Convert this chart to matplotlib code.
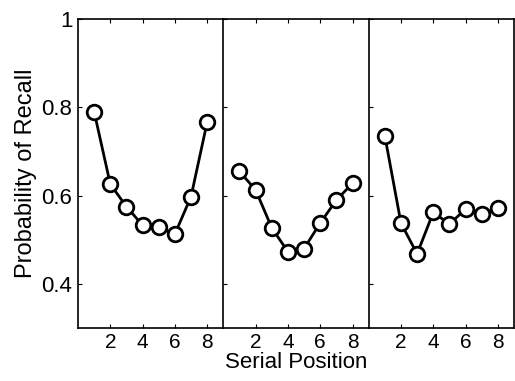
import numpy as np
import matplotlib.pyplot as plt

plt.rcParams['font.family'] = ['Liberation Sans', 'DejaVu Sans']

# serial positions and recall probabilities for each of the three panels
positions = [1, 2, 3, 4, 5, 6, 7, 8]
recall_a = [0.790, 0.626, 0.575, 0.533, 0.528, 0.513, 0.598, 0.767]
recall_b = [0.655, 0.613, 0.527, 0.473, 0.480, 0.538, 0.590, 0.628]
recall_c = [0.736, 0.538, 0.468, 0.562, 0.536, 0.569, 0.559, 0.572]
panels = [recall_a, recall_b, recall_c]

xticks = [2, 4, 6, 8]
yticks = [0.4, 0.6, 0.8, 1.0]
ytick_labels = ['0.4', '0.6', '0.8', '1']

fig = plt.figure(figsize=(5.15, 3.81), dpi=100)
left, right = 0.1515, 0.998
bottom, top = 0.139, 0.9496
w = (right - left) / 3

axes = []
for i, vals in enumerate(panels):
    ax = fig.add_axes([left + i * w, bottom, w, top - bottom])
    ax.plot(positions, vals, color='black', linewidth=2.0,
            marker='o', markersize=10.5, markerfacecolor='white',
            markeredgecolor='black', markeredgewidth=2.0)
    ax.set_xlim(0, 9)
    ax.set_ylim(0.3, 1.0)
    ax.set_xticks(xticks)
    ax.set_xticklabels([str(t) for t in xticks])
    ax.set_yticks(yticks)
    if i == 0:
        ax.set_yticklabels(ytick_labels)
    else:
        ax.set_yticklabels([])
    ax.tick_params(direction='in', length=3, width=0.8, top=True,
                   right=False, colors='black')
    ax.tick_params(axis='x', pad=3.5, labelsize=15)
    ax.tick_params(axis='y', pad=4, labelsize=16)
    for s in ax.spines.values():
        s.set_linewidth(1.2)
    ax.spines['right'].set_visible(i == 2)
    axes.append(ax)

axes[0].set_ylabel('Probability of Recall', fontsize=17, labelpad=3)
axes[1].set_xlabel('Serial Position', fontsize=16, labelpad=0)

fig.savefig('out.png', dpi=100)
